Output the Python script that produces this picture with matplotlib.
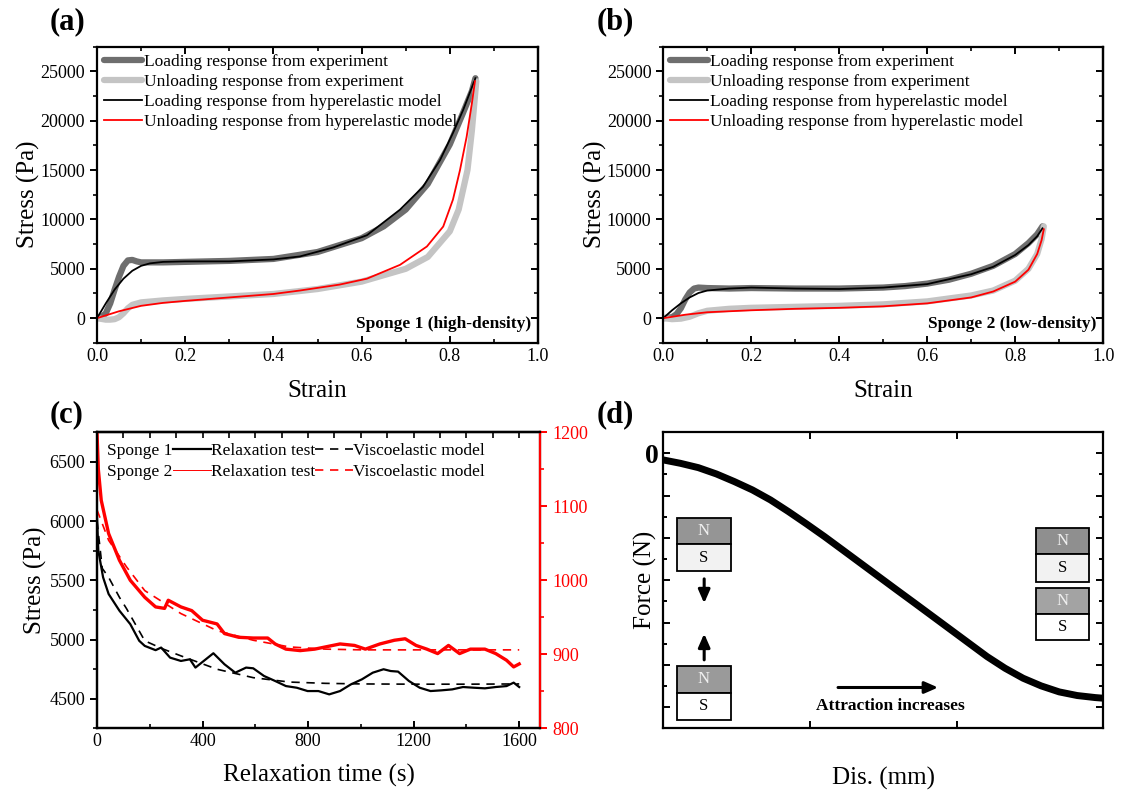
import matplotlib
matplotlib.use('Agg')
import matplotlib.pyplot as plt
from matplotlib.ticker import MultipleLocator, NullFormatter
from matplotlib.patches import Rectangle
from matplotlib.lines import Line2D

plt.rcParams['font.family'] = ['Liberation Serif', 'DejaVu Serif']
plt.rcParams['axes.linewidth'] = 1.6

# ---------------- (a) sponge 1 ----------------
a_load_exp_x = [0, 0.01, 0.02, 0.03, 0.04, 0.05, 0.06, 0.07, 0.08, 0.09, 0.1, 0.15, 0.2, 0.3, 0.4,
                0.5, 0.6, 0.65, 0.7, 0.75, 0.8, 0.83, 0.85, 0.858]
a_load_exp_y = [0, 100, 500, 1500, 2900, 4200, 5300, 5850, 5900, 5750, 5650, 5650, 5700, 5800, 6000,
                6700, 8100, 9300, 11000, 13600, 17600, 20800, 23000, 24300]
a_unload_exp_x = [0, 0.02, 0.03, 0.04, 0.05, 0.06, 0.07, 0.08, 0.1, 0.15, 0.2, 0.3, 0.4, 0.5, 0.6,
                  0.7, 0.75, 0.8, 0.82, 0.84, 0.85, 0.86]
a_unload_exp_y = [0, -150, -150, -100, 100, 500, 1000, 1350, 1600, 1800, 1950, 2200, 2450, 2950, 3700,
                  5000, 6200, 8800, 11000, 15000, 19000, 24000]
a_load_mod_x = [0, 0.02, 0.04, 0.06, 0.08, 0.1, 0.12, 0.15, 0.2, 0.3, 0.4, 0.46, 0.535, 0.612, 0.687,
                0.739, 0.778, 0.807, 0.83, 0.845, 0.858]
a_load_mod_y = [0, 1500, 2900, 4000, 4800, 5300, 5550, 5700, 5750, 5750, 5950, 6250, 7150, 8400, 10990,
                13300, 16030, 18750, 21070, 22800, 24300]
a_unload_mod_x = [0, 0.05, 0.1, 0.15, 0.2, 0.3, 0.4, 0.46, 0.55, 0.612, 0.687, 0.748, 0.785, 0.807,
                  0.823, 0.838, 0.85, 0.857]
a_unload_mod_y = [0, 700, 1250, 1550, 1750, 2100, 2450, 2800, 3400, 4000, 5400, 7260, 9280, 12000,
                  15000, 18350, 21770, 24000]

# ---------------- (b) sponge 2 ----------------
b_load_exp_x = [0, 0.02, 0.03, 0.04, 0.05, 0.06, 0.07, 0.08, 0.1, 0.15, 0.2, 0.3, 0.4, 0.5, 0.55,
                0.6, 0.65, 0.7, 0.75, 0.8, 0.83, 0.85, 0.862]
b_load_exp_y = [0, 100, 400, 1000, 1900, 2600, 3000, 3100, 3050, 3000, 3050, 3000, 3000, 3100, 3250,
                3500, 3900, 4500, 5300, 6500, 7600, 8500, 9300]
b_unload_exp_x = [0, 0.02, 0.04, 0.06, 0.08, 0.1, 0.15, 0.2, 0.3, 0.4, 0.5, 0.6, 0.7, 0.75, 0.8,
                  0.83, 0.85, 0.86, 0.865]
b_unload_exp_y = [0, -100, -50, 150, 500, 750, 950, 1050, 1150, 1250, 1400, 1700, 2300, 2800, 3800,
                  5000, 6500, 8000, 9300]
b_load_mod_x = [0, 0.02, 0.04, 0.06, 0.08, 0.1, 0.15, 0.2, 0.3, 0.4, 0.5, 0.6, 0.7, 0.75, 0.8,
                0.83, 0.85, 0.862]
b_load_mod_y = [0, 800, 1500, 2100, 2550, 2800, 3000, 3100, 3000, 2950, 3100, 3450, 4450, 5200, 6400,
                7400, 8300, 9100]
b_unload_mod_x = [0, 0.05, 0.1, 0.2, 0.3, 0.4, 0.5, 0.6, 0.7, 0.75, 0.8, 0.83, 0.85, 0.86, 0.865]
b_unload_mod_y = [0, 350, 600, 800, 950, 1050, 1200, 1500, 2100, 2700, 3700, 4900, 6500, 7900, 9000]

# ---------------- (c) relaxation ----------------
c_s1_t = [0, 5, 23, 44, 85, 126, 160, 181, 222, 243, 277, 318, 352, 373, 441, 483, 524, 565, 592,
          633, 675, 716, 757, 798, 839, 880, 921, 962, 1004, 1045, 1086, 1113, 1141, 1182, 1223,
          1264, 1305, 1346, 1387, 1429, 1470, 1511, 1552, 1579, 1600]
c_s1_stress = [6030, 5750, 5525, 5384, 5243, 5130, 4989, 4946, 4910, 4932, 4847, 4819, 4833, 4763,
               4884, 4791, 4720, 4763, 4757, 4692, 4650, 4607, 4593, 4565, 4565, 4537, 4565, 4621,
               4664, 4720, 4749, 4734, 4729, 4650, 4593, 4565, 4571, 4579, 4599, 4593, 4588, 4599,
               4607, 4636, 4599]
c_s1_model_t = [0, 20, 44, 85, 112, 181, 250, 318, 455, 592, 729, 866, 1004, 1200, 1400, 1600]
c_s1_model = [6000, 5600, 5525, 5356, 5260, 4989, 4920, 4862, 4749, 4678, 4641, 4630, 4625, 4623,
              4623, 4625]
c_s2_t = [0, 5, 16, 44, 85, 126, 181, 222, 256, 270, 318, 359, 400, 455, 483, 537, 592, 647, 675,
          716, 770, 825, 866, 921, 976, 1017, 1072, 1127, 1168, 1209, 1250, 1291, 1332, 1374, 1415,
          1470, 1511, 1552, 1579, 1600]
c_s2_stress = [1199, 1150, 1108, 1063, 1027, 1000, 977, 964, 962, 973, 964, 959, 946, 941, 928, 923,
               922, 922, 914, 907, 905, 907, 910, 914, 912, 907, 914, 919, 921, 912, 907, 901, 912,
               901, 907, 907, 901, 892, 883, 887]
c_s2_model_t = [0, 44, 112, 181, 318, 455, 592, 729, 866, 1004, 1277, 1600]
c_s2_model = [1095, 1054, 1018, 986, 955, 932, 919, 910, 907, 906, 906, 906]

# ---------------- (d) magnet force ----------------
d_dis = [0, 0.116, 0.239, 0.362, 0.485, 0.608, 0.731, 0.854, 0.977, 1.100, 1.223, 1.346, 1.469,
         1.592, 1.716, 1.839, 1.962, 2.085, 2.208, 2.331, 2.454, 2.577, 2.700, 2.823, 2.946, 3.0]
d_force = [-0.157, -0.236, -0.339, -0.488, -0.669, -0.866, -1.102, -1.378, -1.669, -1.969, -2.283,
           -2.598, -2.913, -3.228, -3.543, -3.858, -4.173, -4.488, -4.803, -5.079, -5.315, -5.496,
           -5.638, -5.724, -5.772, -5.787]

TICK = 13
LABEL = 18
LEG = 12.5
DARK = '#6e6e6e'
LIGHT = '#c4c4c4'


def mirror_y(ax, major, minor, color='black'):
    sec = ax.secondary_yaxis('right')
    sec.yaxis.set_major_locator(MultipleLocator(major))
    sec.yaxis.set_minor_locator(MultipleLocator(minor))
    sec.yaxis.set_major_formatter(NullFormatter())
    sec.tick_params(which='major', direction='in', length=5, width=1.4, colors=color)
    sec.tick_params(which='minor', direction='in', length=3, width=1.2, colors=color)
    return sec


def strain_panel(ax, data, tag):
    lx, ly, ux, uy, mlx, mly, mux, muy = data
    ax.plot(lx, ly, color=DARK, lw=4.5, solid_capstyle='round', label='Loading response from experiment')
    ax.plot(ux, uy, color=LIGHT, lw=4.5, solid_capstyle='round', label='Unloading response from experiment')
    ax.plot(mlx, mly, color='black', lw=1.3, label='Loading response from hyperelastic model')
    ax.plot(mux, muy, color='red', lw=1.3, label='Unloading response from hyperelastic model')
    ax.set_xlim(0, 1.0)
    ax.set_ylim(-2500, 27500)
    ax.xaxis.set_major_locator(MultipleLocator(0.2))
    ax.xaxis.set_minor_locator(MultipleLocator(0.1))
    ax.yaxis.set_major_locator(MultipleLocator(5000))
    ax.yaxis.set_minor_locator(MultipleLocator(2500))
    ax.tick_params(axis='x', which='both', direction='in', top=True, labelsize=TICK)
    ax.tick_params(axis='y', which='both', direction='out', labelsize=TICK)
    ax.tick_params(which='major', length=5, width=1.4)
    ax.tick_params(which='minor', length=3, width=1.2)
    ax.xaxis.set_major_formatter(plt.FuncFormatter(lambda v, p: f'{v:.1f}'))
    mirror_y(ax, 5000, 2500)
    ax.set_xlabel('Strain', fontsize=LABEL, labelpad=11)
    ax.set_ylabel('Stress (Pa)', fontsize=LABEL, labelpad=0)
    ax.legend(loc='upper left', frameon=False, fontsize=LEG, handlelength=2.2, handletextpad=0.1,
              labelspacing=0.22, borderaxespad=0.2, borderpad=0.2)
    ax.text(0.985, 0.035, tag, transform=ax.transAxes, ha='right', va='bottom',
            fontsize=12.5, fontweight='bold')


fig = plt.figure(figsize=(11.28, 7.9), dpi=100)

ax_a = fig.add_axes([0.086, 0.566, 0.391, 0.375])
strain_panel(ax_a, (a_load_exp_x, a_load_exp_y, a_unload_exp_x, a_unload_exp_y,
                    a_load_mod_x, a_load_mod_y, a_unload_mod_x, a_unload_mod_y),
             'Sponge 1 (high-density)')

ax_b = fig.add_axes([0.588, 0.566, 0.390, 0.375])
strain_panel(ax_b, (b_load_exp_x, b_load_exp_y, b_unload_exp_x, b_unload_exp_y,
                    b_load_mod_x, b_load_mod_y, b_unload_mod_x, b_unload_mod_y),
             'Sponge 2 (low-density)')

# (c) relaxation with twin axis
ax_c = fig.add_axes([0.086, 0.078, 0.393, 0.375])
ax_r = ax_c.twinx()
l1, = ax_c.plot(c_s1_t, c_s1_stress, color='black', lw=1.6)
l2, = ax_c.plot(c_s1_model_t, c_s1_model, color='black', lw=1.2, ls=(0, (5, 4)))
ax_r.plot(c_s2_t, c_s2_stress, color='red', lw=2.4)
l4, = ax_r.plot(c_s2_model_t, c_s2_model, color='red', lw=1.2, ls=(0, (5, 4)))
ax_c.set_xlim(0, 1680)
ax_c.set_ylim(4250, 6750)
ax_r.set_ylim(800, 1200)
ax_c.xaxis.set_major_locator(MultipleLocator(400))
ax_c.xaxis.set_minor_locator(MultipleLocator(200))
ax_c.yaxis.set_major_locator(MultipleLocator(500))
ax_c.yaxis.set_minor_locator(MultipleLocator(250))
ax_r.yaxis.set_major_locator(MultipleLocator(100))
ax_r.yaxis.set_minor_locator(MultipleLocator(50))
ax_c.tick_params(axis='x', which='both', direction='in', labelsize=TICK)
ax_c.tick_params(axis='y', which='both', direction='out', labelsize=TICK)
ax_c.tick_params(which='major', length=5, width=1.4)
ax_c.tick_params(which='minor', length=3, width=1.2)
ax_r.tick_params(axis='y', which='both', direction='out', colors='red', labelsize=TICK)
ax_r.tick_params(which='major', length=5, width=1.4)
ax_r.tick_params(which='minor', length=3, width=1.2)
ax_r.spines['right'].set_color('red')
ax_r.spines['right'].set_linewidth(1.6)
top = ax_c.secondary_xaxis('top')
top.xaxis.set_major_locator(MultipleLocator(100))
top.xaxis.set_major_formatter(NullFormatter())
top.tick_params(direction='in', length=4, width=1.2)
ax_c.set_xlabel('Relaxation time (s)', fontsize=LABEL, labelpad=10)
ax_c.set_ylabel('Stress (Pa)', fontsize=LABEL, labelpad=2)
blank = Line2D([], [], color='none')
thin_red = Line2D([], [], color='red', lw=0.7)
ax_r.legend([l1, thin_red, l2, l4, blank, blank],
            ['Sponge 1', 'Sponge 2', 'Relaxation test', 'Relaxation test',
             'Viscoelastic model', 'Viscoelastic model'],
            ncol=3, markerfirst=False, loc='upper left', frameon=False, fontsize=LEG,
            handlelength=2.2, handletextpad=0.0, columnspacing=0.0, labelspacing=0.3,
            borderaxespad=0.3, borderpad=0.3)

# (d) force vs distance
ax_d = fig.add_axes([0.588, 0.078, 0.390, 0.375])
ax_d.plot(d_dis, d_force, color='black', lw=5, solid_capstyle='butt')
ax_d.set_xlim(0, 3)
ax_d.set_ylim(-6.5, 0.5)
ax_d.set_xticks([1, 2])
ax_d.set_xticklabels([])
ax_d.yaxis.set_major_locator(MultipleLocator(1))
ax_d.yaxis.set_minor_locator(MultipleLocator(0.5))
ax_d.set_yticks(range(-6, 1))
ax_d.set_yticklabels(['', '', '', '', '', '', '0'], fontsize=20, fontweight='bold')
ax_d.tick_params(which='both', direction='in', top=True, right=True, width=1.4)
ax_d.tick_params(which='major', length=5)
ax_d.tick_params(which='minor', length=3)
ax_d.set_xlabel('Dis. (mm)', fontsize=LABEL, labelpad=24)
ax_d.set_ylabel('Force (N)', fontsize=LABEL, labelpad=-9)


def magnet(ax, x0, x1, y_bot, y_mid, y_top, ncol, scol):
    w = x1 - x0
    ax.add_patch(Rectangle((x0, y_mid), w, y_top - y_mid, transform=ax.transAxes,
                           facecolor=ncol, edgecolor='black', lw=1.3, zorder=5))
    ax.add_patch(Rectangle((x0, y_bot), w, y_mid - y_bot, transform=ax.transAxes,
                           facecolor=scol, edgecolor='black', lw=1.3, zorder=5))
    ax.text((x0 + x1) / 2, (y_mid + y_top) / 2, 'N', transform=ax.transAxes, ha='center',
            va='center', fontsize=12, color='#f0f0f0', zorder=6)
    ax.text((x0 + x1) / 2, (y_bot + y_mid) / 2, 'S', transform=ax.transAxes, ha='center',
            va='center', fontsize=12, color='black', zorder=6)


magnet(ax_d, 0.032, 0.153, 0.531, 0.621, 0.710, '#959595', '#f2f2f2')
magnet(ax_d, 0.032, 0.153, 0.029, 0.121, 0.211, '#9a9a9a', 'white')
magnet(ax_d, 0.847, 0.968, 0.495, 0.587, 0.675, '#8f8f8f', '#f2f2f2')
magnet(ax_d, 0.847, 0.968, 0.297, 0.387, 0.475, '#a3a3a3', 'white')
arrow = dict(arrowstyle='-|>,head_width=0.35,head_length=0.8', color='black', lw=2.2)
ax_d.annotate('', xy=(0.093, 0.413), xytext=(0.093, 0.514), xycoords='axes fraction', arrowprops=arrow)
ax_d.annotate('', xy=(0.093, 0.329), xytext=(0.093, 0.222), xycoords='axes fraction', arrowprops=arrow)
ax_d.annotate('', xy=(0.631, 0.138), xytext=(0.391, 0.138), xycoords='axes fraction', arrowprops=arrow)
ax_d.text(0.516, 0.076, 'Attraction increases', transform=ax_d.transAxes, ha='center', va='center',
          fontsize=12.5, fontweight='bold')

# panel letters
for x, y, s in [(0.044, 0.972, '(a)'), (0.529, 0.972, '(b)'), (0.044, 0.475, '(c)'), (0.529, 0.475, '(d)')]:
    fig.text(x, y, s, fontsize=22, fontweight='bold', va='center')

fig.savefig('out.png', dpi=100)
